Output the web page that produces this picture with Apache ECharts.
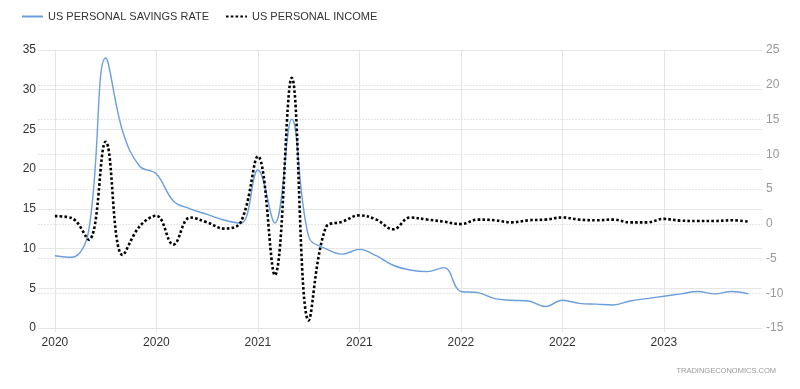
<!DOCTYPE html>
<html>
<head>
<meta charset="utf-8">
<script src="https://cdn.jsdelivr.net/npm/echarts@6/dist/echarts.min.js"></script>
<style>html,body{margin:0;padding:0;background:#fff}#c{width:800px;height:389px}</style>
</head>
<body>
<div id="c"></div>
<script>
const months = [
  '2020-01','2020-02','2020-03','2020-04','2020-05','2020-06','2020-07','2020-08','2020-09','2020-10','2020-11','2020-12',
  '2021-01','2021-02','2021-03','2021-04','2021-05','2021-06','2021-07','2021-08','2021-09','2021-10','2021-11','2021-12',
  '2022-01','2022-02','2022-03','2022-04','2022-05','2022-06','2022-07','2022-08','2022-09','2022-10','2022-11','2022-12',
  '2023-01','2023-02','2023-03','2023-04','2023-05','2023-06'
];
const savingsRate = [
  9.1, 8.9, 12.3, 34.0, 24.8, 20.4, 19.4, 16.0, 15.0, 14.3, 13.6, 13.2,
  19.9, 13.2, 26.3, 11.5, 10.0, 9.3, 9.9, 9.1, 7.9, 7.3, 7.1, 7.6,
  4.6, 4.45, 3.7, 3.5, 3.4, 2.7, 3.5, 3.1, 3.0, 2.9, 3.4, 3.7,
  4.0, 4.3, 4.6, 4.3, 4.6, 4.3
];
const personalIncome = [
  1.1, 0.8, -2.3, 11.8, -4.5, -0.4, 1.15, -3.0, 0.9, 0.2, -0.7, 0.3,
  9.7, -7.4, 21.0, -13.9, -0.6, 0.3, 1.2, 0.6, -0.8, 0.9, 0.6, 0.3,
  -0.05, 0.6, 0.5, 0.2, 0.5, 0.6, 0.9, 0.6, 0.5, 0.6, 0.2, 0.2,
  0.7, 0.45, 0.4, 0.4, 0.5, 0.3
];
const xTickIdx = [0, 6, 12, 18, 24, 30, 36];
const leftTicks = {min: 0, max: 35, step: 5};
const rightTicks = {min: -15, max: 25, step: 5};

const chart = echarts.init(document.getElementById('c'), null, {renderer: 'canvas'});
const font = 'Liberation Sans, Arial, sans-serif';
chart.setOption({
  animation: false,
  textStyle: {fontFamily: font},
  legend: {
    left: 16, top: 6, itemWidth: 21, itemHeight: 10, itemGap: 16,
    itemStyle: {opacity: 0},
    textStyle: {fontSize: 11, color: '#333', fontFamily: font},
    data: ['US PERSONAL SAVINGS RATE', 'US PERSONAL INCOME']
  },
  grid: {left: 38, right: 38, top: 50, bottom: 61, containLabel: false},
  graphic: [{
    type: 'text', right: 24, top: 367,
    style: {text: 'TRADINGECONOMICS.COM', fill: '#999', font: '7.5px ' + font}
  }],
  xAxis: {
    type: 'value', min: -1, max: 41.8,
    axisLine: {show: false},
    axisTick: {show: true, length: 4, lineStyle: {color: '#e4e4e4'}, customValues: xTickIdx},
    axisLabel: {
      customValues: xTickIdx, margin: 9, color: '#333', fontSize: 12, fontFamily: font,
      formatter: v => months[Math.round(v)].slice(0, 4)
    },
    splitLine: {show: true, lineStyle: {color: '#e4e4e4', width: 1}}
  },
  yAxis: [{
    type: 'value', min: leftTicks.min, max: leftTicks.max, interval: leftTicks.step,
    axisLine: {show: false}, axisTick: {show: false},
    axisLabel: {color: '#333', fontSize: 12, margin: 2, fontFamily: font},
    splitLine: {lineStyle: {color: '#e6e6e6', width: 1}}
  }, {
    type: 'value', min: rightTicks.min, max: rightTicks.max, interval: rightTicks.step,
    position: 'right',
    axisLine: {show: false}, axisTick: {show: false},
    axisLabel: {color: '#999', fontSize: 12, margin: 4, fontFamily: font},
    splitLine: {lineStyle: {color: '#e6e6e6', width: 1, type: [2, 1]}}
  }],
  series: [{
    name: 'US PERSONAL SAVINGS RATE', type: 'line', yAxisIndex: 0,
    data: savingsRate.map((v, i) => [i, v]),
    smooth: 0.4, symbol: 'none',
    lineStyle: {color: '#6a9fdc', width: 1.4},
    itemStyle: {color: '#6a9fdc'}
  }, {
    name: 'US PERSONAL INCOME', type: 'line', yAxisIndex: 1,
    data: personalIncome.map((v, i) => [i, v]),
    smooth: 0.4, symbol: 'none',
    lineStyle: {color: '#000', width: 2.6, type: [2.6, 2.2]},
    itemStyle: {color: '#000'}
  }]
});
</script>
</body>
</html>
